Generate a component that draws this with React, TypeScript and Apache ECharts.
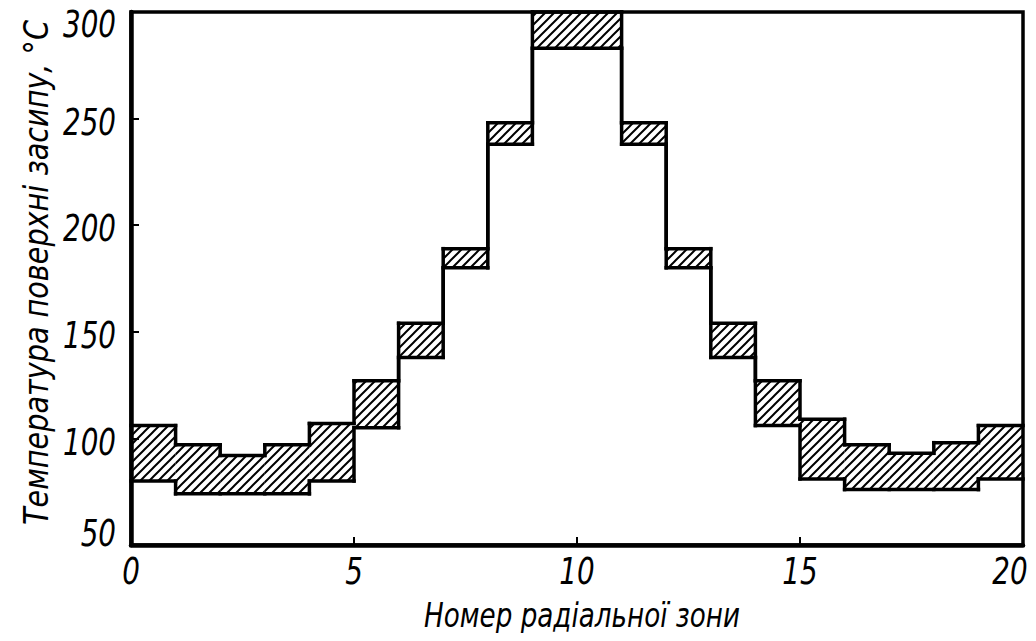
import React, { useEffect, useRef } from "react";
import * as echarts from "echarts";

// Radial zone index (each zone spans [i, i+1])
const zones = [0, 1, 2, 3, 4, 5, 6, 7, 8, 9, 10, 11, 12, 13, 14, 15, 16, 17, 18, 19];
// Lower and upper bounds of surface temperature per zone, °C
const lowerTemp = [80, 74, 74, 74, 80, 105, 138, 180, 238, 283, 283, 238, 180, 138, 106, 81, 76, 76, 76, 81];
const upperTemp = [106, 97, 92, 97, 107, 127, 154, 189, 248, 300, 300, 248, 189, 154, 127, 109, 97, 93, 98, 106];

const xTickValues = [0, 5, 10, 15, 20];
const yTickValues = [50, 100, 150, 200, 250, 300];

const xTitle = "Номер радіальної зони";
const yTitle = "Температура поверхні засипу, °C";

const FONT = "'DejaVu Sans', sans-serif";

function makeHatch(): string {
  const s = 9;
  const c = document.createElement("canvas");
  c.width = s;
  c.height = s;
  const ctx = c.getContext("2d")!;
  ctx.strokeStyle = "#000";
  ctx.lineWidth = 2;
  ctx.beginPath();
  ctx.moveTo(-1, s + 1);
  ctx.lineTo(s + 1, -1);
  ctx.moveTo(-2, 2);
  ctx.lineTo(2, -2);
  ctx.moveTo(s - 2, s + 2);
  ctx.lineTo(s + 2, s - 2);
  ctx.stroke();
  return c.toDataURL();
}

function measure(text: string, size: number): number {
  const c = document.createElement("canvas");
  const ctx = c.getContext("2d")!;
  ctx.font = `italic ${size}px ${FONT}`;
  return ctx.measureText(text).width;
}

export default function App() {
  const ref = useRef<HTMLDivElement>(null);

  useEffect(() => {
    if (!ref.current) return;
    const chart = echarts.init(ref.current, null, { renderer: "svg" });
    const hatch = makeHatch();
    const pattern: any = { image: hatch, repeat: "repeat", imageWidth: 9, imageHeight: 9 };

    const data = zones.map((i) => [
      i,
      i + 1,
      lowerTemp[i],
      upperTemp[i],
      i > 0 ? lowerTemp[i - 1] : lowerTemp[i],
      i > 0 ? upperTemp[i - 1] : upperTemp[i],
    ]);

    const lineStyle = { stroke: "#000", lineWidth: 3.5, lineCap: "square" };

    chart.setOption({
      animation: false,
      backgroundColor: "#fff",
      grid: {
        left: 131,
        right: 13,
        top: 12,
        bottom: 96,
        show: true,
        borderColor: "#000",
        borderWidth: 3.5,
        backgroundColor: "transparent",
      },
      xAxis: {
        type: "value",
        min: 0,
        max: 20,
        interval: 5,
        axisLine: { show: true, lineStyle: { color: "#000", width: 4.5 } },
        axisTick: { show: true, inside: true, length: 8, lineStyle: { color: "#000", width: 2 } },
        axisLabel: { show: false },
        splitLine: { show: false },
      },
      yAxis: {
        type: "value",
        min: 50,
        max: 300,
        interval: 50,
        axisLine: { show: true, lineStyle: { color: "#000", width: 4.5 } },
        axisTick: { show: true, inside: true, length: 8, lineStyle: { color: "#000", width: 2 } },
        axisLabel: { show: false },
        splitLine: { show: false },
      },
      series: [
        {
          type: "custom",
          z: 2,
          data,
          clip: false,
          renderItem: (params: any, api: any) => {
            const a = api.coord([api.value(0), api.value(2)]);
            const b = api.coord([api.value(1), api.value(3)]);
            return {
              type: "rect",
              shape: { x: a[0], y: b[1], width: b[0] - a[0], height: a[1] - b[1] },
              style: { fill: pattern, stroke: null },
              silent: true,
            };
          },
        },
        {
          type: "custom",
          z: 3,
          data,
          clip: false,
          renderItem: (params: any, api: any) => {
            const x0 = api.value(0);
            const x1 = api.value(1);
            const lo = api.value(2);
            const hi = api.value(3);
            const plo = api.value(4);
            const phi = api.value(5);
            const seg = (p: number[], q: number[]) => {
              const A = api.coord(p);
              const B = api.coord(q);
              return {
                type: "line",
                shape: { x1: A[0], y1: A[1], x2: B[0], y2: B[1] },
                style: lineStyle,
                silent: true,
              };
            };
            const children: any[] = [seg([x0, hi], [x1, hi]), seg([x0, lo], [x1, lo])];
            if (phi !== hi) children.push(seg([x0, phi], [x0, hi]));
            if (plo !== lo) children.push(seg([x0, plo], [x0, lo]));
            return { type: "group", children };
          },
        },
      ],
    });

    // Tick labels and axis titles drawn as condensed italic text
    const tickSize = 38;
    const tickScale = 53 / measure("300", tickSize);
    const texts: any[] = [];
    yTickValues.forEach((v) => {
      const p = chart.convertToPixel({ gridIndex: 0 }, [0, v]) as number[];
      const cy = Math.min(Math.max(p[1] + 3, 24), 533);
      texts.push({
        type: "text",
        x: 116,
        y: cy,
        scaleX: tickScale,
        style: {
          text: String(v),
          fontFamily: FONT,
          fontStyle: "italic",
          fontSize: tickSize,
          fill: "#000",
          textAlign: "right",
          textVerticalAlign: "middle",
        },
      });
    });
    xTickValues.forEach((v) => {
      const p = chart.convertToPixel({ gridIndex: 0 }, [v, 50]) as number[];
      const cx = Math.min(Math.max(p[0], 130), 1010);
      texts.push({
        type: "text",
        x: cx,
        y: 571,
        scaleX: tickScale,
        style: {
          text: String(v),
          fontFamily: FONT,
          fontStyle: "italic",
          fontSize: tickSize,
          fill: "#000",
          textAlign: "center",
          textVerticalAlign: "middle",
        },
      });
    });
    const titleSize = 34;
    const xTitleScale = 316 / measure(xTitle, titleSize);
    const yTitleScale = 505 / measure(yTitle, titleSize);
    const cAxis = chart.convertToPixel({ gridIndex: 0 }, [10, 175]) as number[];
    texts.push({
      type: "text",
      x: 582,
      y: 615,
      scaleX: xTitleScale,
      style: {
        text: xTitle,
        fontFamily: FONT,
        fontStyle: "italic",
        fontSize: titleSize,
        fill: "#000",
        textAlign: "center",
        textVerticalAlign: "middle",
      },
    });
    texts.push({
      type: "text",
      x: 36,
      y: cAxis[1] - 6,
      rotation: Math.PI / 2,
      scaleX: yTitleScale,
      style: {
        text: yTitle,
        fontFamily: FONT,
        fontStyle: "italic",
        fontSize: titleSize,
        fill: "#000",
        textAlign: "center",
        textVerticalAlign: "middle",
      },
    });
    chart.setOption({ graphic: { elements: texts } });

    return () => chart.dispose();
  }, []);

  return <div ref={ref} style={{ width: 1036, height: 641, margin: -8 }} />;
}
